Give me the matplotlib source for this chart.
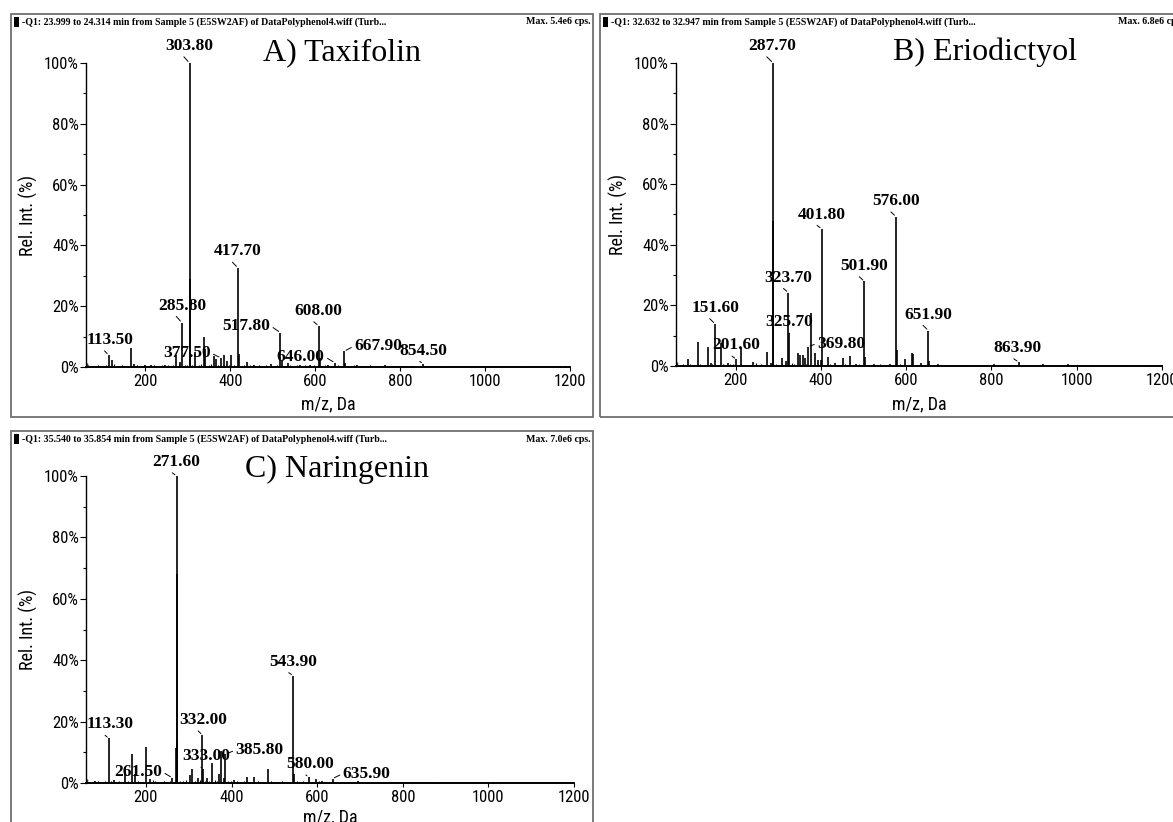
import matplotlib
matplotlib.use("Agg")
import matplotlib.pyplot as plt
from matplotlib import font_manager
from matplotlib.patches import Rectangle

# ---------------------------------------------------------------------------
# Spectra data: (m/z, relative intensity %) pairs
# ---------------------------------------------------------------------------
a_peaks = [(113.5, 3.9), (121.6, 2.2), (166.3, 6.4), (172.5, 1.0), (200.0, 0.8),
           (212.0, 0.6), (247.0, 0.8), (273.0, 3.9), (282.0, 1.5), (285.8, 14.6),
           (303.8, 100.0), (304.8, 29.0), (317.6, 5.0), (338.8, 9.9), (341.0, 6.0),
           (360.8, 3.5), (367.0, 2.5), (377.5, 3.0), (384.3, 4.1), (392.0, 2.0),
           (402.4, 4.1), (417.7, 32.6), (419.6, 4.4), (439.2, 1.7), (455.0, 0.7),
           (496.5, 0.9), (517.8, 11.3), (521.6, 2.0), (535.0, 1.3), (564.7, 0.8),
           (588.0, 0.6), (608.0, 13.5), (610.0, 3.0), (631.0, 0.6), (646.0, 1.4),
           (667.9, 5.2), (670.6, 1.3), (698.0, 0.5), (737.0, 0.4), (764.7, 0.6),
           (800.0, 0.4), (831.0, 0.4), (854.5, 1.1), (910.0, 0.3), (949.0, 0.3),
           (975.0, 0.3), (1015.0, 0.3), (1060.0, 0.3), (1092.0, 0.3), (1125.0, 0.3),
           (1160.0, 0.3), (1190.0, 0.3)]
a_noise = [(64, 0.6), (69, 0.3), (75, 0.4), (82, 0.2), (88, 0.5), (95, 0.3), (101, 0.4),
           (108, 0.6), (126, 0.9), (131, 0.4), (139, 0.3), (145, 0.5), (152, 0.3), (158, 0.4),
           (179, 0.7), (185, 0.4), (191, 0.3), (197, 0.5), (206, 0.4), (219, 0.6), (225, 0.3),
           (231, 0.4), (238, 0.8), (253, 0.5), (259, 0.3), (265, 0.6), (278, 0.9), (293, 0.7),
           (297, 0.5), (309, 0.8), (326, 0.6), (331, 1.1), (349, 0.7), (354, 0.9), (371, 0.8),
           (396, 0.6), (408, 0.5), (425, 0.4), (431, 0.6), (446, 0.5), (451, 0.3), (462, 0.4),
           (468, 0.6), (475, 0.3), (483, 0.5), (489, 0.4), (503, 0.3), (509, 0.5), (528, 0.4),
           (541, 0.6), (549, 0.3), (556, 0.5), (571, 0.4), (577, 0.6), (596, 0.5), (603, 0.4),
           (617, 0.3), (624, 0.5), (637, 0.4), (653, 0.6), (659, 0.3), (678, 0.4), (685, 0.3),
           (692, 0.5), (705, 0.3), (712, 0.4), (721, 0.3), (729, 0.5), (745, 0.3), (752, 0.4),
           (771, 0.3), (779, 0.4), (788, 0.3), (809, 0.4), (817, 0.3), (825, 0.3), (840, 0.4),
           (847, 0.3), (862, 0.3), (870, 0.4), (879, 0.3), (888, 0.3), (897, 0.4), (918, 0.3),
           (927, 0.3), (936, 0.4), (958, 0.3), (966, 0.3), (984, 0.4), (993, 0.3), (1002, 0.3),
           (1023, 0.4), (1031, 0.3), (1040, 0.3), (1049, 0.3), (1068, 0.4), (1077, 0.3),
           (1086, 0.3), (1101, 0.3), (1110, 0.4), (1119, 0.3), (1134, 0.3), (1143, 0.3),
           (1152, 0.4), (1168, 0.3), (1177, 0.3), (1186, 0.3), (1196, 0.4)]
a_labels = [113.5, 285.8, 303.8, 377.5, 417.7, 517.8, 608.0, 646.0, 667.9, 854.5]

b_peaks = [(87.0, 2.2), (111.0, 8.0), (134.0, 6.4), (141.0, 1.0), (151.6, 13.9),
           (166.0, 7.7), (181.0, 1.0), (201.6, 2.2), (213.0, 6.4), (240.0, 1.4),
           (274.0, 4.7), (283.0, 1.0), (287.7, 100.0), (288.7, 47.7), (309.0, 2.8),
           (318.0, 1.5), (323.7, 24.2), (325.7, 10.8), (346.0, 4.4), (350.0, 3.5),
           (358.0, 3.6), (363.0, 2.5), (369.8, 6.4), (377.0, 17.6), (387.0, 4.2),
           (393.0, 2.0), (400.5, 2.0), (401.8, 45.2), (416.0, 2.9), (432.0, 1.0),
           (451.0, 2.5), (469.0, 3.3), (482.0, 0.8), (501.9, 27.9), (503.5, 3.0),
           (525.0, 0.7), (563.0, 0.8), (576.0, 49.3), (577.5, 5.3), (597.0, 2.2),
           (613.0, 4.4), (616.0, 3.8), (635.0, 1.0), (651.9, 11.7), (653.5, 1.5),
           (674.0, 0.6), (729.0, 0.4), (806.0, 0.8), (845.0, 0.4), (863.9, 1.3),
           (921.6, 0.5), (980.0, 0.5), (1039.0, 0.4), (1117.6, 0.4), (1172.5, 0.4)]
b_noise = [(63, 0.4), (70, 0.3), (76, 0.6), (93, 0.5), (99, 0.3), (117, 0.6), (122, 0.4),
           (144, 0.5), (156, 0.3), (171, 0.6), (187, 0.8), (193, 0.5), (220, 0.4), (227, 0.3),
           (247, 0.9), (254, 0.4), (260, 0.5), (294, 0.6), (300, 0.4), (331, 0.9), (336, 0.7),
           (364, 0.6), (393, 0.7), (421, 0.6), (438, 0.4), (457, 0.5), (475, 0.4), (489, 0.5),
           (496, 0.3), (512, 0.4), (531, 0.3), (538, 0.5), (547, 0.3), (568, 0.4), (585, 0.5),
           (602, 0.4), (622, 0.3), (642, 0.4), (663, 0.3), (683, 0.4), (692, 0.3), (702, 0.4),
           (715, 0.3), (738, 0.3), (748, 0.4), (760, 0.3), (772, 0.4), (785, 0.3), (795, 0.4),
           (815, 0.3), (826, 0.4), (835, 0.3), (853, 0.3), (874, 0.3), (884, 0.4), (894, 0.3),
           (905, 0.3), (914, 0.3), (932, 0.4), (943, 0.3), (952, 0.3), (962, 0.4), (971, 0.3),
           (990, 0.3), (1000, 0.3), (1012, 0.3), (1021, 0.4), (1031, 0.3), (1048, 0.3),
           (1058, 0.4), (1067, 0.3), (1078, 0.3), (1088, 0.3), (1099, 0.4), (1108, 0.3),
           (1126, 0.3), (1136, 0.3), (1146, 0.4), (1155, 0.3), (1164, 0.3), (1182, 0.3),
           (1192, 0.4)]
b_labels = [151.6, 201.6, 287.7, 323.7, 325.7, 369.8, 401.8, 501.9, 576.0, 651.9, 863.9]

c_peaks = [(81.0, 0.8), (113.3, 14.5), (124.6, 1.0), (150.8, 5.0), (168.3, 9.4),
           (174.6, 3.0), (200.0, 11.8), (210.3, 1.2), (261.5, 1.7), (270.6, 11.3),
           (271.6, 100.0), (272.6, 68.0), (273.6, 12.9), (304.0, 2.5), (308.6, 4.4),
           (322.0, 1.5), (332.0, 15.6), (333.0, 4.6), (342.0, 1.5), (354.0, 6.4),
           (370.0, 3.0), (376.0, 10.5), (381.5, 1.5), (385.8, 9.4), (405.5, 0.9),
           (436.0, 1.8), (453.5, 1.8), (485.5, 4.4), (543.9, 34.9), (544.9, 2.8),
           (580.0, 1.9), (597.0, 1.2), (612.0, 0.6), (635.9, 1.4), (696.0, 0.5),
           (759.5, 0.4), (820.0, 0.3), (880.0, 0.3), (945.0, 0.3), (1010.0, 0.3),
           (1075.0, 0.3), (1140.0, 0.3), (1190.0, 0.3)]
c_noise = [(66, 0.4), (72, 0.3), (89, 0.5), (96, 0.3), (104, 0.6), (118, 0.8), (131, 0.4),
           (137, 0.6), (143, 0.3), (158, 0.5), (163, 0.4), (181, 0.6), (188, 0.4), (194, 0.3),
           (216, 0.9), (222, 0.5), (229, 0.4), (236, 0.3), (243, 0.5), (250, 0.4), (256, 0.6),
           (280, 0.7), (287, 0.5), (294, 0.9), (315, 0.8), (327, 0.9), (337, 0.7), (347, 0.8),
           (361, 0.9), (366, 0.8), (392, 0.7), (398, 0.5), (412, 0.6), (420, 0.4), (428, 0.5),
           (444, 0.4), (461, 0.6), (470, 0.3), (478, 0.4), (493, 0.5), (501, 0.3), (510, 0.4),
           (519, 0.5), (527, 0.3), (535, 0.4), (552, 0.6), (560, 0.4), (568, 0.5), (588, 0.4),
           (604, 0.5), (620, 0.4), (628, 0.3), (645, 0.4), (653, 0.3), (662, 0.4), (671, 0.3),
           (679, 0.4), (688, 0.3), (705, 0.4), (713, 0.3), (722, 0.3), (731, 0.4), (740, 0.3),
           (749, 0.3), (767, 0.4), (776, 0.3), (786, 0.4), (795, 0.3), (804, 0.3), (812, 0.4),
           (829, 0.3), (838, 0.3), (847, 0.4), (856, 0.3), (865, 0.4), (873, 0.3), (891, 0.3),
           (900, 0.4), (909, 0.3), (918, 0.3), (927, 0.4), (936, 0.3), (954, 0.3), (963, 0.4),
           (972, 0.3), (981, 0.3), (990, 0.4), (999, 0.3), (1018, 0.3), (1027, 0.4),
           (1036, 0.3), (1045, 0.3), (1054, 0.4), (1063, 0.3), (1084, 0.3), (1093, 0.4),
           (1102, 0.3), (1111, 0.3), (1120, 0.4), (1129, 0.3), (1149, 0.3), (1158, 0.4),
           (1167, 0.3), (1176, 0.3), (1184, 0.4), (1195, 0.3)]
c_labels = [113.3, 261.5, 271.6, 332.0, 333.0, 385.8, 543.9, 580.0, 635.9]

x_ticks = [200, 400, 600, 800, 1000, 1200]
y_ticks = [0, 20, 40, 60, 80, 100]
y_minor = [10, 30, 50, 70, 90]

titles = ["A) Taxifolin", "B) Eriodictyol", "C) Naringenin"]
headers = ["-Q1: 23.999 to 24.314 min from Sample 5 (E5SW2AF) of DataPolyphenol4.wiff (Turb...",
           "-Q1: 32.632 to 32.947 min from Sample 5 (E5SW2AF) of DataPolyphenol4.wiff (Turb...",
           "-Q1: 35.540 to 35.854 min from Sample 5 (E5SW2AF) of DataPolyphenol4.wiff (Turb..."]
max_counts = ["Max. 5.4e6 cps.", "Max. 6.8e6 cps.", "Max. 7.0e6 cps."]

# ---------------------------------------------------------------------------
# Fonts
# ---------------------------------------------------------------------------
_entries = font_manager.fontManager.ttflist
_names = {f.name for f in _entries}


def narrow_sans():
    for fam in ("Liberation Sans Narrow", "Roboto Condensed", "Open Sans Condensed"):
        if fam in _names:
            return dict(family=fam)
    if any(f.name == "DejaVu Sans" and "condensed" in str(f.stretch) for f in _entries):
        return dict(family="DejaVu Sans", stretch="condensed")
    return dict(family="Liberation Sans")


SANS = narrow_sans()
SERIF = "Liberation Serif"

# ---------------------------------------------------------------------------
# Layout (pixel boxes: left, right, top, bottom) and label placement
# label offsets: (dx, dy) in pixels from peak top to label baseline centre,
# plus leader-line anchor on the label box
# ---------------------------------------------------------------------------
W, H = 1173, 822
fig = plt.figure(figsize=(W / 100, H / 100), dpi=100)
fig.patch.set_facecolor("white")

ABOVE = (0.33, 0.0)
LEFT_OF = (1.0, 0.5)
RIGHT_OF = (0.0, 0.5)

layout = [
    dict(frame=(11, 593, 14, 417), axes=(86, 570, 63, 367), head_y=22,
         title_xy=(342, 60), ylab_x=28, xlab_y=404,
         offsets={113.5: (1, 11, ABOVE), 285.8: (0, 13, ABOVE), 303.8: (0, 13, ABOVE),
                  377.5: (-34, 1, LEFT_OF), 417.7: (0, 12.5, ABOVE), 517.8: (-34, 3, LEFT_OF),
                  608.0: (0, 11, ABOVE), 646.0: (-34, 2, LEFT_OF), 667.9: (34, 1, RIGHT_OF),
                  854.5: (0, 9, ABOVE)}),
    dict(frame=(600, 1186, 14, 417), axes=(676, 1162, 63, 366), head_y=22,
         title_xy=(985, 60), ylab_x=618, xlab_y=404,
         offsets={151.6: (0, 12, ABOVE), 201.6: (0, 10, ABOVE), 287.7: (-1, 13, ABOVE),
                  323.7: (0, 11, ABOVE), 325.7: (0, 7, ABOVE), 369.8: (33, -1, RIGHT_OF),
                  401.8: (0, 10.5, ABOVE), 501.9: (0, 11.5, ABOVE), 576.0: (0, 11.5, ABOVE),
                  651.9: (0, 12, ABOVE), 863.9: (-1, 10, ABOVE)}),
    dict(frame=(11, 593, 431, 840), axes=(86, 574, 476, 783), head_y=439,
         title_xy=(337, 477), ylab_x=28, xlab_y=817,
         offsets={113.3: (1, 10, ABOVE), 261.5: (-34, 2, LEFT_OF), 271.6: (0, 10, ABOVE),
                  332.0: (1, 11, ABOVE), 333.0: (3, 8.5, ABOVE), 385.8: (34, 0, RIGHT_OF),
                  543.9: (0, 10, ABOVE), 580.0: (2, 9, ABOVE), 635.9: (34, 1, RIGHT_OF)}),
]

spectra = [(a_peaks, a_noise, a_labels), (b_peaks, b_noise, b_labels),
           (c_peaks, c_noise, c_labels)]


def fx(px):
    return px / W


def fy(py):
    return 1 - py / H


for (peaks, noise, labels), lay, title, head, mx in zip(spectra, layout, titles,
                                                       headers, max_counts):
    fl, fr, ft, fb = lay["frame"]
    fig.patches.append(Rectangle((fx(fl), fy(fb)), (fr - fl) / W, (fb - ft) / H,
                                 transform=fig.transFigure, fill=False,
                                 edgecolor="#6f6f6f", linewidth=1.3))
    hy = lay["head_y"]
    fig.patches.append(Rectangle((fx(fl + 3), fy(hy + 5)), 5 / W, 10 / H,
                                 transform=fig.transFigure, facecolor="black",
                                 edgecolor="none"))
    fig.text(fx(fl + 11), fy(hy), head, family=SERIF, fontweight="bold",
             fontsize=7.15, ha="left", va="center")
    fig.text(fx(fr - 3), fy(hy), mx, family=SERIF, fontweight="bold",
             fontsize=7.15, ha="right", va="center")

    al, ar, at, ab = lay["axes"]
    ax = fig.add_axes([fx(al), fy(ab), (ar - al) / W, (ab - at) / H])
    ax.set_facecolor("none")
    ax.set_xlim(60, 1200)
    ax.set_ylim(0, 100)
    for side in ("top", "right"):
        ax.spines[side].set_visible(False)
    for side in ("left", "bottom"):
        ax.spines[side].set_linewidth(1.0)
    ax.spines["bottom"].set_linewidth(1.4)

    n_mz, n_int = zip(*noise)
    ax.vlines(n_mz, 0, n_int, color="black", linewidth=0.8, clip_on=False)
    p_mz, p_int = zip(*peaks)
    ax.vlines(p_mz, 0, p_int, color="black", linewidth=1.2, clip_on=False)
    ax.vlines([61], 0, [1.3], color="#2a2aa8", linewidth=2.5)

    ax.set_yticks(y_ticks, [f"{v}%" for v in y_ticks], fontsize=12, **SANS)
    ax.set_yticks(y_minor, minor=True)
    ax.set_xticks(x_ticks, [str(v) for v in x_ticks], fontsize=12, **SANS)
    ax.tick_params(axis="y", which="major", length=4, width=0.8, pad=1)
    ax.tick_params(axis="y", which="minor", length=2.5, width=0.8)
    ax.tick_params(axis="x", which="major", length=3, width=0.8, pad=2)

    level = dict(peaks)
    for lab in labels:
        dx, dy, rel = lay["offsets"][lab]
        ax.annotate(f"{lab:.2f}", xy=(lab, level[lab]), xytext=(dx, dy),
                    textcoords="offset pixels", ha="center", va="baseline",
                    family=SERIF, fontweight="bold", fontsize=12.5,
                    annotation_clip=False,
                    arrowprops=dict(arrowstyle="-", color="black", linewidth=0.7,
                                    shrinkA=0, shrinkB=1.5, relpos=rel))

    tx, ty = lay["title_xy"]
    fig.text(fx(tx), fy(ty), title, family=SERIF, fontsize=23, ha="center",
             va="baseline")
    fig.text(fx(lay["ylab_x"]), fy((at + ab) / 2), "Rel. Int. (%)", rotation=90,
             ha="center", va="center", fontsize=13, **SANS)
    fig.text(fx((al + ar) / 2), fy(lay["xlab_y"]), "m/z, Da", ha="center",
             va="center", fontsize=13, **SANS)

fig.savefig("out.png", dpi=100, facecolor="white")
